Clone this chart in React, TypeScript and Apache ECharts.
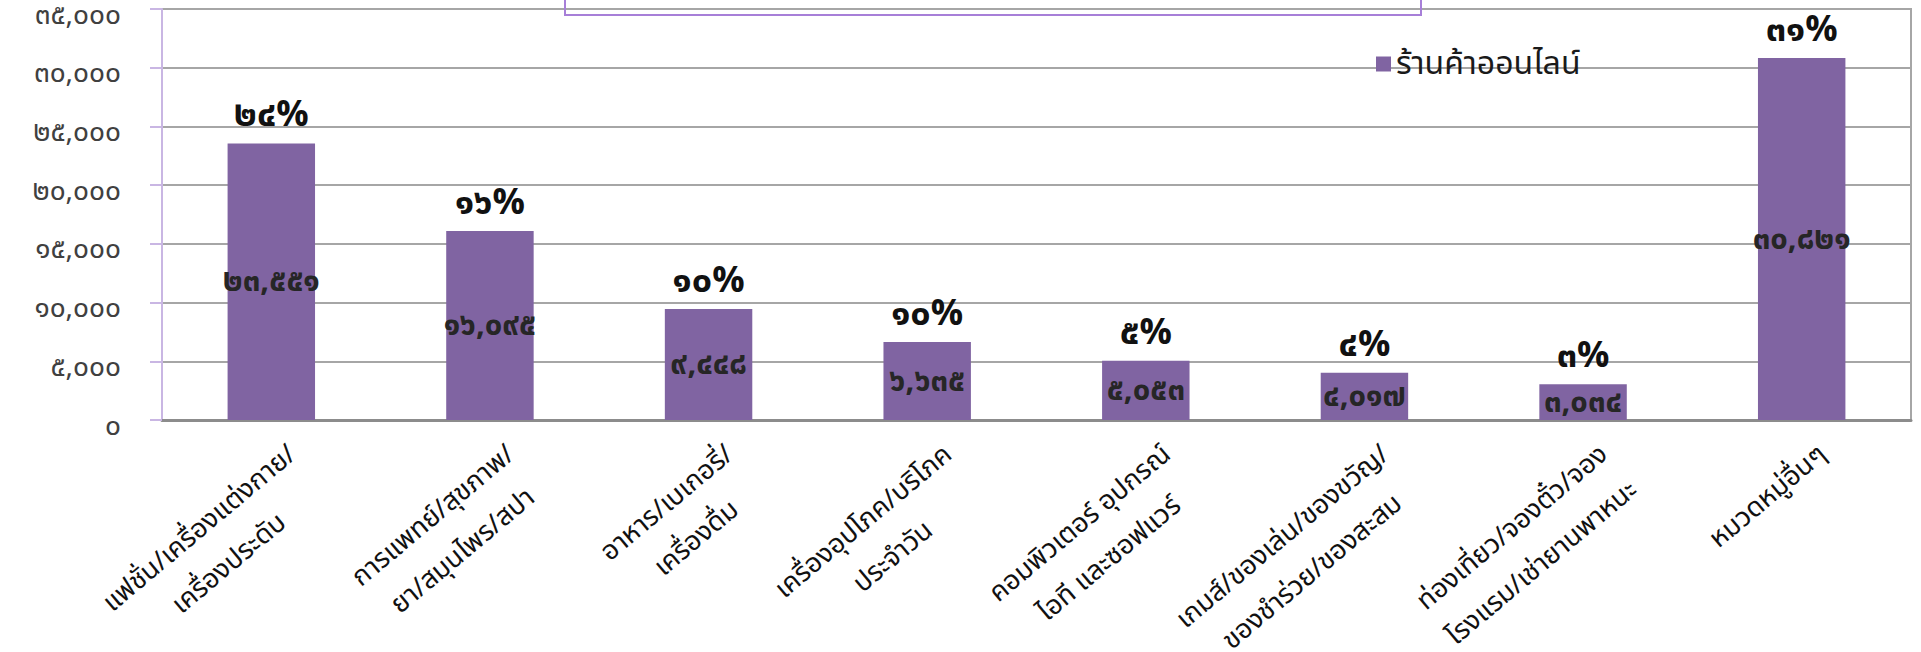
import React, { useEffect, useRef } from "react";
import * as echarts from "echarts";

const categories = [
  "แฟชั่น/เครื่องแต่งกาย/\nเครื่องประดับ",
  "การแพทย์/สุขภาพ/\nยา/สมุนไพร/สปา",
  "อาหาร/เบเกอรี่/\nเครื่องดื่ม",
  "เครื่องอุปโภค/บริโภค\nประจำวัน",
  "คอมพิวเตอร์ อุปกรณ์\nไอที และซอฟแวร์",
  "เกมส์/ของเล่น/ของขวัญ/\nของชำร่วย/ของสะสม",
  "ท่องเที่ยว/จองตั๋ว/จอง\nโรงแรม/เช่ายานพาหนะ",
  "หมวดหมู่อื่นๆ",
];
const storeCounts = [23551, 16095, 9448, 6635, 5053, 4017, 3034, 30821];
const sharePercents = [24, 16, 10, 10, 5, 4, 3, 31];
const seriesName = "ร้านค้าออนไลน์";
const yMin = 0;
const yMax = 35000;
const yStep = 5000;

const THAI_DIGITS = "๐๑๒๓๔๕๖๗๘๙";
const toThai = (s: string) => s.replace(/[0-9]/g, (d) => THAI_DIGITS[+d]);
const fmtNum = (n: number) => toThai(n.toLocaleString("en-US"));

const FONT = '"Noto Sans Thai", Loma, Garuda, Waree, Tahoma, sans-serif';

export default function App() {
  const ref = useRef<HTMLDivElement>(null);
  useEffect(() => {
    if (!ref.current) return;
    const chart = echarts.init(ref.current, null, { renderer: "svg" });
    chart.setOption({
      animation: false,
      backgroundColor: "#ffffff",
      textStyle: { fontFamily: FONT },
      grid: {
        left: 162,
        right: 10,
        top: 9,
        bottom: 232,
        show: true,
        borderColor: "#a6a6a6",
        borderWidth: 2,
        outerBoundsMode: "none",
        containLabel: false,
      },
      legend: {
        data: [seriesName],
        left: 1371,
        top: 43,
        icon: "rect",
        itemWidth: 15,
        itemHeight: 15,
        textStyle: { fontSize: 32, color: "#1a1a1a", fontFamily: FONT },
      },
      xAxis: {
        type: "category",
        data: categories,
        axisLine: { lineStyle: { color: "#8c8c8c", width: 3 } },
        axisTick: { show: false },
        axisLabel: {
          interval: 0,
          rotate: 40,
          margin: 18,
          align: "right",
          verticalAlign: "top",
          padding: [0, -8, 0, 0],
          color: "#111",
          formatter: (v: string) => v.split("\n").map((l) => `{c|${l}}`).join("\n"),
          rich: {
            c: { align: "center", fontSize: 27, lineHeight: 46, fontFamily: FONT, color: "#111" },
          },
        },
      },
      yAxis: {
        type: "value",
        min: yMin,
        max: yMax,
        interval: yStep,
        axisLine: { show: true, lineStyle: { color: "#c9b6e3", width: 2 } },
        axisTick: { show: true, length: 12, lineStyle: { color: "#c9b6e3", width: 2 } },
        splitLine: { lineStyle: { color: "#a6a6a6", width: 2 } },
        axisLabel: {
          margin: 41,
          fontSize: 28,
          lineHeight: 12,
          verticalAlign: "top",
          color: "#404040",
          fontFamily: FONT,
          formatter: (v: number) => fmtNum(v),
        },
      },
      series: [
        {
          name: seriesName,
          type: "bar",
          data: storeCounts,
          barCategoryGap: "60%",
          itemStyle: { color: "#8064a2" },
          label: {
            show: true,
            position: "inside",
            fontSize: 31,
            fontWeight: "bold",
            color: "#262626",
            fontFamily: FONT,
            formatter: (p: any) => fmtNum(p.value),
          },
        },
        {
          name: "percent",
          type: "bar",
          data: storeCounts,
          barGap: "-100%",
          barCategoryGap: "60%",
          itemStyle: { color: "rgba(0,0,0,0)" },
          silent: true,
          label: {
            show: true,
            position: "top",
            distance: 10,
            fontSize: 36,
            fontWeight: "bold",
            color: "#111",
            fontFamily: FONT,
            formatter: (p: any) => toThai(String(sharePercents[p.dataIndex])) + "%",
          },
        },
      ],
      graphic: [
        {
          type: "rect",
          shape: { x: 565, y: -30, width: 856, height: 45 },
          style: { fill: "rgba(0,0,0,0)", stroke: "#a77fd8", lineWidth: 2 },
          z: 10,
        },
      ],
    });
    return () => chart.dispose();
  }, []);
  return (
    <div
      ref={ref}
      style={{ position: "fixed", left: 0, top: 0, width: 1921, height: 652, background: "#fff" }}
    />
  );
}
